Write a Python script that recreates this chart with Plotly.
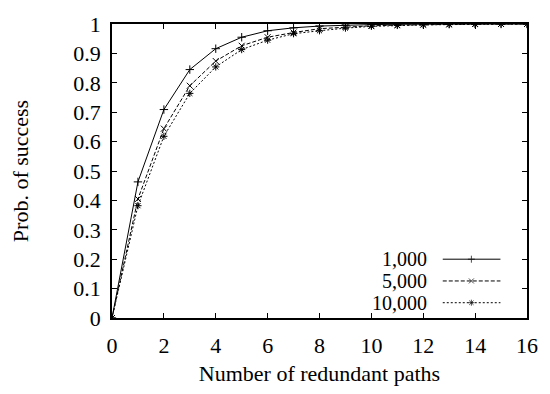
import plotly.graph_objects as go

paths = list(range(0, 17))
p_1000 = [0, 0.463, 0.709, 0.845, 0.916, 0.955, 0.977, 0.987, 0.993, 0.996, 0.998, 0.999, 1, 1, 1, 1, 1]
p_5000 = [0, 0.405, 0.644, 0.790, 0.874, 0.926, 0.955, 0.971, 0.984, 0.990, 0.994, 0.996, 0.998, 0.999, 1, 1, 1]
p_10000 = [0, 0.382, 0.618, 0.764, 0.854, 0.913, 0.945, 0.967, 0.977, 0.986, 0.992, 0.995, 0.997, 0.998, 0.999, 1, 1]
series_names = ["1,000", "5,000", "10,000"]
x_ticks = list(range(0, 17, 2))
y_ticks = [0, 0.1, 0.2, 0.3, 0.4, 0.5, 0.6, 0.7, 0.8, 0.9, 1]
y_ticktext = ["0", "0.1", "0.2", "0.3", "0.4", "0.5", "0.6", "0.7", "0.8", "0.9", "1"]

FONT = "Liberation Serif"
FS = 22
FS_LEG = 20
styles = [
    dict(dash="solid", symbol="cross-thin"),
    dict(dash="4px,2px", symbol="x-thin"),
    dict(dash="2px,2px", symbol="asterisk"),
]
data = [p_1000, p_5000, p_10000]

fig = go.Figure()
for name, ys, st in zip(series_names, data, styles):
    fig.add_trace(go.Scatter(
        x=paths, y=ys, mode="lines+markers", name=name, showlegend=False,
        line=dict(color="black", width=1, dash=st["dash"]),
        marker=dict(symbol=st["symbol"], size=6, color="black",
                    line=dict(width=1, color="black")),
    ))

# legend (drawn in an overlay frame spanning the plot area)
leg_x = [0.797, 0.866, 0.936]
leg_y = [0.200, 0.126, 0.052]
for name, st, ly in zip(series_names, styles, leg_y):
    fig.add_trace(go.Scatter(
        x=leg_x, y=[ly] * 3, xaxis="x2", yaxis="y2", mode="lines+markers",
        showlegend=False, hoverinfo="skip",
        line=dict(color="black", width=1, dash=st["dash"]),
        marker=dict(symbol=st["symbol"], size=[0, 5, 0], color="black",
                    line=dict(width=1, color="black")),
    ))
    fig.add_annotation(x=0.761, y=ly, xref="x2", yref="y2", text=name,
                       showarrow=False, xanchor="right", yanchor="middle",
                       borderpad=0,
                       font=dict(family=FONT, size=FS_LEG, color="black"))

axis_common = dict(showline=True, linecolor="black", linewidth=1.5, mirror="ticks",
                   ticks="inside", ticklen=5, tickcolor="black", showgrid=False,
                   zeroline=False, tickfont=dict(family=FONT, size=FS, color="black"))

fig.update_layout(
    width=550, height=394,
    margin=dict(l=112, r=15, t=17, b=67),
    paper_bgcolor="white", plot_bgcolor="white",
    xaxis=dict(range=[0, 16], tickvals=x_ticks, ticklabelstandoff=7, **axis_common,
               title=dict(text="Number of redundant paths", standoff=8,
                          font=dict(family=FONT, size=FS, color="black"))),
    yaxis=dict(range=[0, 1], tickvals=y_ticks, ticktext=y_ticktext, ticklabelstandoff=5,
               **axis_common,
               title=dict(text="Prob. of success", standoff=39,
                          font=dict(family=FONT, size=FS, color="black"))),
    xaxis2=dict(range=[0, 1], overlaying="x", visible=False, fixedrange=True),
    yaxis2=dict(range=[0, 1], overlaying="y", visible=False, fixedrange=True),
    showlegend=False,
)

fig.write_html("out.html")
